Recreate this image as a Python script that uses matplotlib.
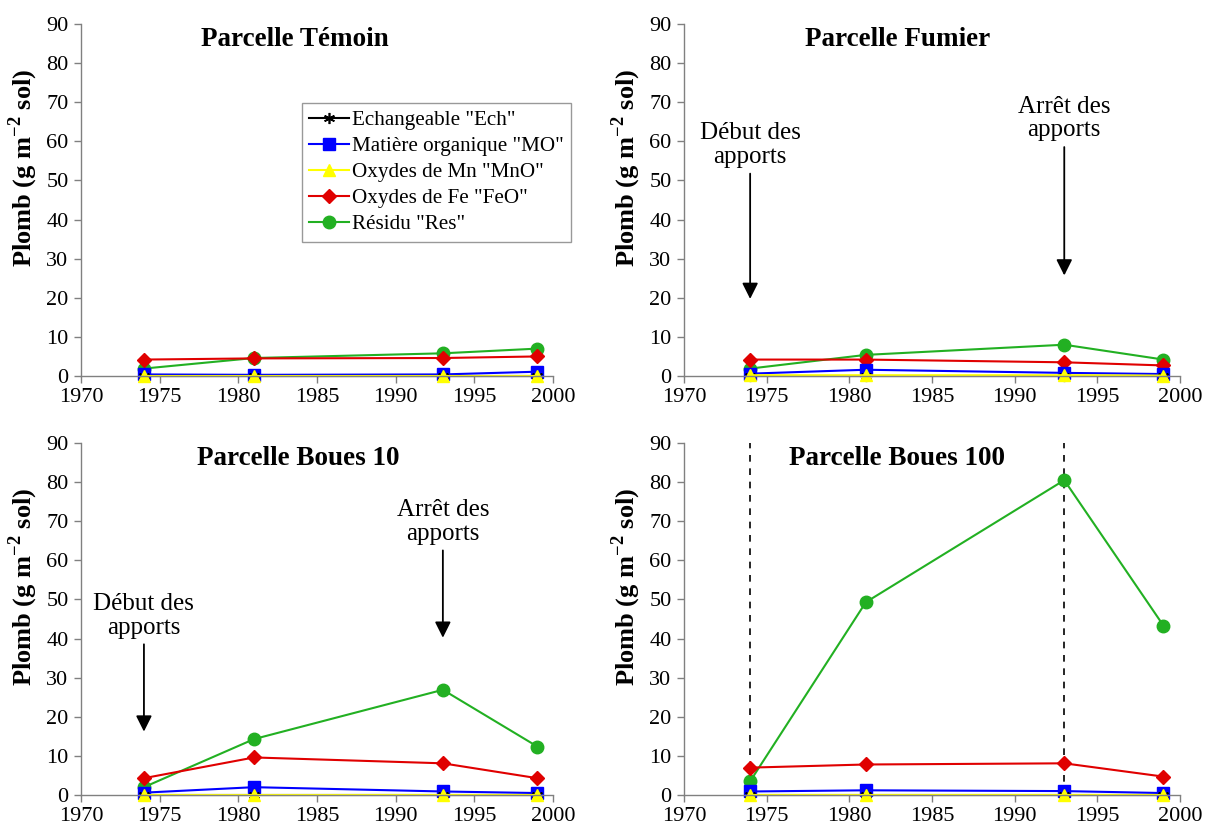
import matplotlib
matplotlib.use("Agg")
import matplotlib.pyplot as plt

plt.rcParams['font.family'] = ['Liberation Serif', 'DejaVu Serif']
plt.rcParams['mathtext.fontset'] = 'custom'
plt.rcParams['mathtext.rm'] = 'Liberation Serif'
plt.rcParams['mathtext.bf'] = 'Liberation Serif:bold'

years = [1974, 1981, 1993, 1999]

series_names = ['Echangeable "Ech"', 'Matière organique "MO"', 'Oxydes de Mn "MnO"',
                'Oxydes de Fe "FeO"', 'Résidu "Res"']

# Parcelle Témoin
temoin_ech = [0.1, 0.1, 0.1, 0.1]
temoin_mo = [0.4, 0.3, 0.4, 1.1]
temoin_mno = [0.0, 0.0, 0.0, 0.0]
temoin_feo = [4.2, 4.5, 4.6, 5.0]
temoin_res = [1.9, 4.6, 5.8, 7.0]

# Parcelle Fumier
fumier_ech = [0.1, 0.1, 0.1, 0.1]
fumier_mo = [0.6, 1.6, 0.8, 0.5]
fumier_mno = [0.2, 0.2, 0.2, 0.1]
fumier_feo = [4.2, 4.2, 3.5, 2.7]
fumier_res = [1.9, 5.4, 8.0, 4.2]

# Parcelle Boues 10
b10_ech = [0.1, 0.1, 0.1, 0.1]
b10_mo = [0.6, 2.0, 0.9, 0.5]
b10_mno = [0.1, 0.1, 0.1, 0.1]
b10_feo = [4.3, 9.6, 8.1, 4.3]
b10_res = [2.0, 14.3, 26.9, 12.4]

# Parcelle Boues 100
b100_ech = [0.1, 0.1, 0.1, 0.1]
b100_mo = [0.9, 1.2, 1.0, 0.5]
b100_mno = [0.1, 0.1, 0.1, 0.1]
b100_feo = [7.0, 7.8, 8.1, 4.7]
b100_res = [3.5, 49.3, 80.5, 43.3]

titles = ['Parcelle Témoin', 'Parcelle Fumier', 'Parcelle Boues 10', 'Parcelle Boues 100']
data = [
    [temoin_ech, temoin_mo, temoin_mno, temoin_feo, temoin_res],
    [fumier_ech, fumier_mo, fumier_mno, fumier_feo, fumier_res],
    [b10_ech, b10_mo, b10_mno, b10_feo, b10_res],
    [b100_ech, b100_mo, b100_mno, b100_feo, b100_res],
]

colors = ['black', '#0000ff', '#ffff00', '#e00000', '#22b022']
markers = ['x', 's', '^', 'D', 'o']
msizes = [8, 8, 8, 7, 9]
# drawing order: Res first so that lower series appear on top
order = [4, 3, 1, 0, 2]

fig = plt.figure(figsize=(12.16, 8.25), dpi=100)
positions = [
    [81/1216, 1-376/825, 472/1216, 352/825],
    [684/1216, 1-376/825, 496/1216, 352/825],
    [81/1216, 1-795/825, 472/1216, 352/825],
    [684/1216, 1-795/825, 496/1216, 352/825],
]
title_x = [1983.6, 1982.9, 1983.8, 1982.9]

axes = []
for i, pos in enumerate(positions):
    ax = fig.add_axes(pos)
    axes.append(ax)
    handles = {}
    for k in order:
        mk = markers[k]
        if mk == 'x':
            ln, = ax.plot(years, data[i][k], color=colors[k], marker=(6, 2, 0),
                          markersize=msizes[k], markeredgewidth=1.2, lw=1.5, clip_on=False)
        else:
            ln, = ax.plot(years, data[i][k], color=colors[k], marker=mk,
                          markersize=msizes[k], lw=1.5, clip_on=False)
        handles[k] = ln
    ax.set_xlim(1970, 2000)
    ax.set_ylim(0, 90)
    ax.set_xticks(range(1970, 2001, 5))
    ax.set_yticks(range(0, 91, 10))
    for s in ['top', 'right']:
        ax.spines[s].set_visible(False)
    for s in ['left', 'bottom']:
        ax.spines[s].set_color('#808080')
        ax.spines[s].set_linewidth(1.0)
    ax.tick_params(axis='both', labelsize=16, colors='#808080', labelcolor='black',
                   length=5, width=1.0, direction='out')
    ax.tick_params(axis='y', pad=4)
    ax.tick_params(axis='x', pad=3.5)
    ax.set_ylabel('Plomb (g m$^{\\mathbf{-2}}$ sol)', fontsize=19, fontweight='bold')
    width_px = pos[2] * 1216
    ax.yaxis.set_label_coords(-41 / width_px, 0.59)
    ax.text(title_x[i], 86.0, titles[i], fontsize=19.5,
            fontweight='bold', ha='center', va='center')
    if i == 0:
        leg = ax.legend([handles[k] for k in range(5)], series_names, loc='upper left',
                        bbox_to_anchor=(0.468, 0.776), fontsize=15.2, frameon=True,
                        fancybox=False, edgecolor='#808080', handlelength=1.9,
                        handletextpad=0.1, borderpad=0.35, labelspacing=0.3,
                        borderaxespad=0)
        leg.get_frame().set_linewidth(1.0)

arrow_kw = dict(arrowstyle='-|>', color='black', lw=1.3, mutation_scale=24)
ann_fs = 18

# Fumier annotations
ax = axes[1]
ax.annotate('Début des\napports', xy=(1974, 19), xytext=(1974, 59.0), fontsize=ann_fs,
            ha='center', va='center', arrowprops=arrow_kw, linespacing=1.1)
ax.annotate('Arrêt des\napports', xy=(1993, 25), xytext=(1993, 65.8), fontsize=ann_fs,
            ha='center', va='center', arrowprops=arrow_kw, linespacing=1.1)

# Boues 10 annotations
ax = axes[2]
ax.annotate('Début des\napports', xy=(1974, 15.5), xytext=(1974, 45.8), fontsize=ann_fs,
            ha='center', va='center', arrowprops=arrow_kw, linespacing=1.1)
ax.annotate('Arrêt des\napports', xy=(1993, 39.5), xytext=(1993, 69.8), fontsize=ann_fs,
            ha='center', va='center', arrowprops=arrow_kw, linespacing=1.1)

# Boues 100 dashed lines
ax = axes[3]
for yr in [1974, 1993]:
    ax.axvline(yr, color='black', ls=(0, (4, 4)), lw=1.2, zorder=0)

fig.savefig('out.png', dpi=100, facecolor='white')
